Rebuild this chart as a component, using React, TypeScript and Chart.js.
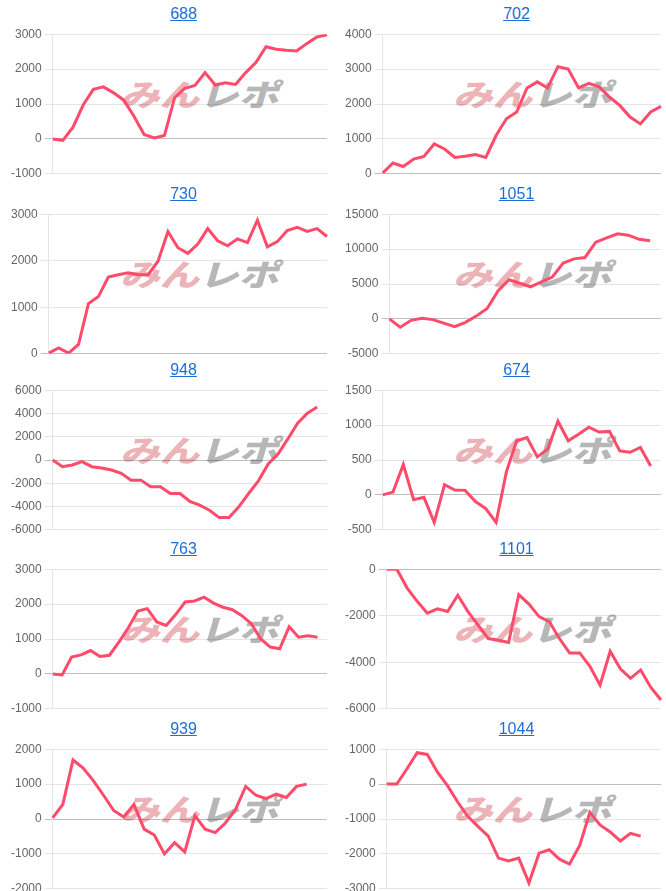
import React, { useEffect, useRef } from "react";
import { Chart, registerables } from "chart.js";

Chart.register(...registerables);

// ---- data ----
const titles = ["688", "702", "730", "1051", "948", "674", "763", "1101", "939", "1044"];

const days = Array.from({ length: 30 }, (_, i) => String(i + 1));

const s688 = [0, -40, 335, 970, 1420, 1490, 1320, 1110, 650, 125, 30, 95, 1180, 1450, 1530, 1900, 1545, 1610, 1560, 1900, 2185, 2640, 2570, 2540, 2520, 2730, 2920, 2980];
const s702 = [20, 310, 210, 420, 500, 855, 710, 470, 500, 550, 470, 1095, 1575, 1770, 2460, 2635, 2460, 3070, 3000, 2460, 2590, 2490, 2200, 1960, 1625, 1430, 1770, 1930];
const s730 = [15, 125, 15, 200, 1080, 1230, 1650, 1700, 1740, 1700, 1700, 1990, 2630, 2280, 2160, 2360, 2690, 2430, 2320, 2470, 2390, 2870, 2300, 2410, 2650, 2720, 2630, 2690, 2520];
const s1051 = [0, -1200, -200, 100, -100, -600, -1100, -500, 400, 1500, 4000, 5600, 5100, 4600, 5300, 6000, 8000, 8600, 8800, 11000, 11600, 12200, 12000, 11400, 11200];
const s948 = [0, -575, -430, -145, -575, -690, -860, -1150, -1730, -1730, -2300, -2300, -2880, -2880, -3570, -3880, -4320, -4950, -4950, -4030, -2880, -1790, -345, 520, 1810, 3170, 4030, 4550];
const s674 = [0, 40, 435, -70, -35, -395, 145, 70, 65, -95, -195, -395, 330, 775, 820, 545, 655, 1055, 775, 870, 970, 900, 910, 630, 610, 680, 415];
const s763 = [0, -30, 480, 545, 670, 500, 535, 910, 1320, 1800, 1870, 1490, 1390, 1700, 2060, 2090, 2200, 2030, 1910, 1840, 1670, 1440, 1000, 770, 720, 1350, 1050, 1090, 1050];
const s1101 = [0, 0, -800, -1380, -1890, -1700, -1820, -1120, -1820, -2400, -2980, -3050, -3150, -1090, -1500, -2040, -2250, -2980, -3600, -3600, -4170, -4980, -3530, -4280, -4690, -4330, -5080, -5620];
const s939 = [30, 420, 1690, 1460, 1100, 680, 245, 60, 420, -290, -460, -1000, -680, -945, 100, -290, -390, -115, 275, 935, 680, 585, 710, 615, 935, 1000];
const s1044 = [0, 0, 440, 900, 850, 340, -50, -520, -930, -1220, -1490, -2120, -2200, -2120, -2830, -1980, -1880, -2150, -2290, -1760, -810, -1170, -1370, -1630, -1410, -1490];

const seriesList = [s688, s702, s730, s1051, s948, s674, s763, s1101, s939, s1044];
const labelCounts = [28, 28, 29, 26, 29, 28, 30, 28, 28, 28];

const yMins = [-1000, 0, 0, -5000, -6000, -500, -1000, -6000, -2000, -3000];
const yMaxs = [3000, 4000, 3000, 15000, 6000, 1500, 3000, 0, 2000, 1000];
const ySteps = [1000, 1000, 1000, 5000, 2000, 500, 1000, 2000, 1000, 1000];

// ---- layout / style constants ----
const ROW_TOPS = [0, 180, 356, 535, 715];
const COL_W = 333;
const CANVAS_W = 322;
const CANVAS_H = 160;
const CANVAS_TOP = 24;
const LINE_COLOR = "#ff4b6b";

function Panel({ idx }: { idx: number }) {
  const ref = useRef<HTMLCanvasElement | null>(null);
  const col = idx % 2;
  const row = Math.floor(idx / 2);
  const left = col * COL_W;
  const top = ROW_TOPS[row];

  useEffect(() => {
    if (!ref.current) return;
    const n = labelCounts[idx];
    const labels = days.slice(0, n);
    const vals: (number | null)[] = labels.map((_, i) =>
      i < seriesList[idx].length ? seriesList[idx][i] : null
    );
    const chart = new Chart(ref.current, {
      type: "line",
      data: {
        labels,
        datasets: [
          {
            data: vals,
            borderColor: LINE_COLOR,
            backgroundColor: LINE_COLOR,
            borderWidth: 3,
            pointRadius: 0,
            pointHoverRadius: 0,
            fill: false,
            tension: 0,
          },
        ],
      },
      options: {
        animation: false,
        responsive: false,
        maintainAspectRatio: false,
        layout: { padding: { right: 3 } },
        plugins: {
          legend: { display: false },
          tooltip: { enabled: false },
          title: { display: false },
        },
        scales: {
          x: { display: false },
          y: {
            min: yMins[idx],
            max: yMaxs[idx],
            ticks: {
              stepSize: ySteps[idx],
              color: "#666",
              font: { size: 12, family: "'Liberation Sans', Arial, sans-serif" },
              padding: 3,
              callback: (v: any) => String(v),
            },
            grid: {
              color: (c: any) =>
                c.tick && c.tick.value === 0 ? "rgba(0,0,0,0.25)" : "rgba(0,0,0,0.1)",
              tickLength: 8,
            },
            border: { color: "rgba(0,0,0,0.1)" },
          },
        },
      },
    });
    return () => chart.destroy();
  }, [idx]);

  return (
    <div style={{ position: "absolute", left, top, width: COL_W, height: 178 }}>
      <div
        style={{
          position: "absolute",
          left: 133.5,
          top: 6,
          width: 100,
          textAlign: "center",
          fontFamily: "'Liberation Sans', Arial, sans-serif",
          fontSize: 16,
          lineHeight: "16px",
        }}
      >
        <a href="#" style={{ color: "#1b6fd6", textDecoration: "underline" }}>
          {titles[idx]}
        </a>
      </div>
      <div
        style={{
          position: "absolute",
          left: 124,
          top: 75,
          fontFamily: "'Noto Sans CJK JP', sans-serif",
          fontWeight: 900,
          fontSize: 36,
          lineHeight: "36px",
          letterSpacing: 0,
          transform: "skewX(-16deg) scale(1.1, 0.84)",
          transformOrigin: "left center",
          whiteSpace: "nowrap",
        }}
      >
        <span style={{ color: "#ecb4b8" }}>みん</span>
        <span style={{ color: "#b7b7b7" }}>レポ</span>
      </div>
      <canvas
        ref={ref}
        width={CANVAS_W}
        height={CANVAS_H}
        style={{
          position: "absolute",
          left: col === 0 ? 8 : 9,
          top: CANVAS_TOP,
          width: CANVAS_W,
          height: CANVAS_H,
        }}
      />
    </div>
  );
}

export default function App() {
  return (
    <div style={{ position: "relative", width: 666, height: 891, background: "#fff" }}>
      <style>{`body{margin:0;}`}</style>
      {titles.map((_, i) => (
        <Panel key={i} idx={i} />
      ))}
    </div>
  );
}
